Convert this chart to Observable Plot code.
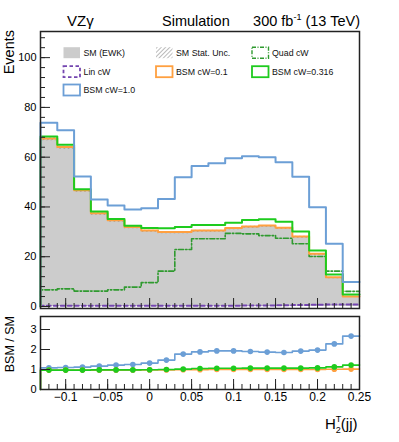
<!DOCTYPE html>
<html><head><meta charset="utf-8">
<script src="https://cdn.jsdelivr.net/npm/d3@7"></script>
<script src="https://cdn.jsdelivr.net/npm/@observablehq/plot@0.6"></script>
<style>
body{margin:0;background:#fff;font-family:"Liberation Sans",Arial,sans-serif;}
#wrap{position:relative;width:399px;height:442px;overflow:hidden;background:#fff;}
#topPanel,#botPanel,#ov{position:absolute;left:0;}
#topPanel{top:0;} #botPanel{top:312px;} #ov{top:0;pointer-events:none;}
</style></head><body><div id="wrap"><div id="topPanel"></div><div id="botPanel"></div><svg id="ov" width="399" height="442"></svg></div>
<script>
// ---- data ----
const binEdges = [-0.13,-0.11,-0.09,-0.07,-0.05,-0.03,-0.01,0.01,0.03,0.05,0.07,0.09,0.11,0.13,0.15,0.17,0.19,0.21,0.23,0.25];
const binCenters = [-0.12,-0.10,-0.08,-0.06,-0.04,-0.02,0,0.02,0.04,0.06,0.08,0.10,0.12,0.14,0.16,0.18,0.20,0.22,0.24];
const smEWK   = [67.2,63.8,46.4,37.2,34.4,31.6,30.2,29.6,29.6,30.2,30.2,31.2,31.8,32.2,31.3,27.8,20.9,11.5,3.8];
const smStatUnc = [0.6,0.6,0.5,0.5,0.5,0.4,0.4,0.4,0.4,0.4,0.4,0.4,0.4,0.4,0.4,0.4,0.4,0.3,0.2];
const linCW   = [0.3,0.3,0.3,0.3,0.3,0.3,0.3,0.3,0.3,0.3,0.3,0.3,0.4,0.4,0.5,0.6,0.7,0.8,0.8];
const quadCW  = [6.7,7.1,6.2,6.2,6.7,7.8,9.6,14.2,22.9,27.2,27.2,29.4,29.2,28.5,27.4,25.2,20.1,14.2,6.1];
const bsm01   = [67.5,64.1,46.7,37.5,34.7,31.9,30.5,29.9,29.9,30.5,30.5,31.5,32.1,32.5,31.6,28.1,21.2,11.8,4.0];
const bsm0316 = [68.3,65.0,47.1,38.2,35.2,32.4,31.5,31.4,31.9,32.8,32.8,33.7,34.8,35.1,34.1,30.1,22.5,12.9,4.8];
const bsm10   = [73.8,70.8,52.2,43.0,40.6,39.0,39.5,43.2,51.9,56.5,57.6,59.6,60.4,60.0,58.0,52.1,39.9,25.2,9.8];
const ratio01   = [0.97,0.97,0.97,0.97,0.97,0.97,0.98,0.98,0.99,0.99,1.00,1.00,1.00,1.00,1.00,1.00,1.00,1.01,1.02];
const ratio0316 = [0.97,0.97,0.97,0.98,0.98,0.98,0.99,1.00,1.02,1.05,1.06,1.06,1.07,1.07,1.07,1.07,1.08,1.13,1.22];
const ratio10   = [1.08,1.10,1.12,1.17,1.22,1.25,1.32,1.47,1.77,1.88,1.93,1.93,1.90,1.87,1.85,1.92,1.97,2.28,2.67];
const yTicksTop = [0,20,40,60,80,100];
const yTicksRatio = [0,1,2,3];
const yTickLabelsRatio = ["0","1","2","3"];
const xTicks = [-0.1,-0.05,0,0.05,0.1,0.15,0.2,0.25];
const xTickLabels = ["\u22120.1","\u22120.05","0","0.05","0.1","0.15","0.2","0.25"];
const legendItems = [
  {label:"SM (EWK)", kind:"fill"},
  {label:"SM Stat. Unc.", kind:"hatch"},
  {label:"Quad cW", kind:"quad"},
  {label:"Lin cW", kind:"lin"},
  {label:"BSM cW=0.1", kind:"b01"},
  {label:"BSM cW=0.316", kind:"b0316"},
  {label:"BSM cW=1.0", kind:"b10"}
];

// ---- style ----
const C = {sm:"#cccccc", quad:"#2f9a2f", lin:"#7446b0", b01:"#ffa040", b0316:"#1ecb1e", b10:"#6c9fd6", frame:"#222"};
const xDomain = [binEdges[0], binEdges[binEdges.length-1]];
const W = 399, ML = 40, MR = 40;
const plotW = W - ML - MR;

function steps(vals){
  const pts = [{x:binEdges[0], y:0}];
  vals.forEach((v,i)=>pts.push({x:binEdges[i], y:v}));
  pts.push({x:binEdges[vals.length], y:vals[vals.length-1]});
  return pts;
}
function band(vals, unc){
  const pts = [];
  vals.forEach((v,i)=>pts.push({x:binEdges[i], y1:v-unc[i], y2:v+unc[i]}));
  const n = vals.length-1;
  pts.push({x:binEdges[vals.length], y1:vals[n]-unc[n], y2:vals[n]+unc[n]});
  return pts;
}
const xMinor = d3.range(-12,25).map(i=>i/100);
const yMinorTop = d3.range(0,111,4);

const baseStyle = {fontFamily:"Liberation Sans, Arial, sans-serif", color:"#000", background:"transparent", overflow:"visible"};

// ---- upper panel ----
const H1 = 312, MT1 = 31, MB1 = 4, ph1 = H1 - MT1 - MB1;
const topPlot = Plot.plot({
  width: W, height: H1, marginLeft: ML, marginRight: MR, marginTop: MT1, marginBottom: MB1,
  style: baseStyle,
  x: {domain: xDomain, axis: null},
  y: {domain: [-0.8, 110.5], axis: null},
  marks: [
    Plot.areaY(steps(smEWK), {x:"x", y:"y", curve:"step-after", fill:C.sm}),
    Plot.areaY(band(smEWK, smStatUnc), {x:"x", y1:"y1", y2:"y2", curve:"step-after", fill:"url(#hatch)"}),
    Plot.line(steps(quadCW), {x:"x", y:"y", curve:"step-after", stroke:C.quad, strokeWidth:1.6, strokeDasharray:"5,2,1.5,2"}),
    Plot.line(steps(linCW), {x:"x", y:"y", curve:"step-after", stroke:C.lin, strokeWidth:2, strokeDasharray:"4,3"}),
    Plot.line(steps(bsm01), {x:"x", y:"y", curve:"step-after", stroke:C.b01, strokeWidth:2}),
    Plot.line(steps(bsm0316), {x:"x", y:"y", curve:"step-after", stroke:C.b0316, strokeWidth:2}),
    Plot.line(steps(bsm10), {x:"x", y:"y", curve:"step-after", stroke:C.b10, strokeWidth:2}),
    Plot.tickY(yTicksTop, {y:d=>d, insetRight: plotW-10, stroke:C.frame}),
    Plot.tickY(yMinorTop, {y:d=>d, insetRight: plotW-5, stroke:C.frame}),
    Plot.tickX(xTicks, {x:d=>d, insetTop: ph1-10, stroke:C.frame}),
    Plot.tickX(xMinor, {x:d=>d, insetTop: ph1-5, stroke:C.frame}),
    Plot.axisY({ticks: yTicksTop, tickSize: 0, tickPadding: 4, fontSize: 11, label: null}),
    Plot.frame({stroke: C.frame, strokeWidth: 1.5})
  ]
});
document.getElementById("topPanel").appendChild(topPlot);
const svgTop = topPlot.tagName.toLowerCase()==="svg" ? topPlot : topPlot.querySelector("svg");
const defs = d3.select(svgTop).insert("defs", ":first-child");
const pat = defs.append("pattern").attr("id","hatch").attr("patternUnits","userSpaceOnUse")
  .attr("width",3).attr("height",3).attr("patternTransform","rotate(45)");
pat.append("line").attr("x1",0).attr("y1",0).attr("x2",0).attr("y2",3).attr("stroke","#555").attr("stroke-width",0.9);

// ---- ratio panel ----
const H2 = 130, MT2 = 4, MB2 = 53, ph2 = H2 - MT2 - MB2;
const pts = (arr)=>arr.map((v,i)=>({x:binCenters[i], y:v}));
const botPlot = Plot.plot({
  width: W, height: H2, marginLeft: ML, marginRight: MR, marginTop: MT2, marginBottom: MB2,
  style: baseStyle,
  x: {domain: xDomain, axis: null},
  y: {domain: [0, 3.65], axis: null},
  marks: [
    Plot.line(steps(ratio10), {x:"x", y:"y", curve:"step-after", stroke:C.b10, strokeWidth:1.6}),
    Plot.dot(pts(ratio10), {x:"x", y:"y", r:2.8, fill:C.b10}),
    Plot.line(steps(ratio01), {x:"x", y:"y", curve:"step-after", stroke:C.b01, strokeWidth:1.6}),
    Plot.dot(pts(ratio01), {x:"x", y:"y", r:2.8, fill:C.b01}),
    Plot.line(steps(ratio0316), {x:"x", y:"y", curve:"step-after", stroke:C.b0316, strokeWidth:1.6}),
    Plot.dot(pts(ratio0316), {x:"x", y:"y", r:2.8, fill:C.b0316}),
    Plot.tickY(yTicksRatio, {y:d=>d, insetRight: plotW-10, stroke:C.frame}),
    Plot.tickX(xTicks, {x:d=>d, insetTop: ph2-10, stroke:C.frame}),
    Plot.tickX(xMinor, {x:d=>d, insetTop: ph2-5, stroke:C.frame}),
    Plot.axisY({ticks: yTicksRatio, tickSize: 0, tickPadding: 4, fontSize: 11, label: null,
      tickFormat: d => yTickLabelsRatio[yTicksRatio.indexOf(d)]}),
    Plot.axisX({ticks: xTicks, tickSize: 0, tickPadding: 3, fontSize: 12, label: null,
      tickFormat: d => xTickLabels[xTicks.indexOf(d)]}),
    Plot.frame({stroke: C.frame, strokeWidth: 1.5})
  ]
});
document.getElementById("botPanel").appendChild(botPlot);

// ---- overlay texts & legend ----
const ov = d3.select("#ov").style("font-family","Liberation Sans, Arial, sans-serif");
ov.append("text").attr("x",67).attr("y",26).attr("font-size",15).text("VZγ");
ov.append("text").attr("x",162).attr("y",26).attr("font-size",14.5).text("Simulation");
const lum = ov.append("text").attr("x",360).attr("y",26).attr("font-size",14.5).attr("text-anchor","end");
lum.append("tspan").text("300 fb");
lum.append("tspan").attr("dy",-6).attr("font-size",9).text("-1");
lum.append("tspan").attr("dy",6).text(" (13 TeV)");
ov.append("text").attr("transform","translate(14,30) rotate(-90)").attr("text-anchor","end").attr("font-size",14.5).text("Events");
ov.append("text").attr("transform","translate(14,316) rotate(-90)").attr("text-anchor","end").attr("font-size",12.5).text("BSM / SM");
const xt = ov.append("text").attr("x",325).attr("y",429).attr("font-size",15);
xt.append("tspan").text("H");
xt.append("tspan").attr("dy",-7).attr("font-size",9).text("T");
xt.append("tspan").attr("dx",-5.5).attr("dy",11).attr("font-size",9).text("2");
xt.append("tspan").attr("dy",-4).text("(jj)");

const colX = [63.5, 156, 252], rowY = [52.7, 71.7, 90];
const ldefs = ov.append("defs");
const lp = ldefs.append("pattern").attr("id","lhatch").attr("patternUnits","userSpaceOnUse")
  .attr("width",3).attr("height",3).attr("patternTransform","rotate(45)");
lp.append("line").attr("x1",0).attr("y1",0).attr("x2",0).attr("y2",3).attr("stroke","#666").attr("stroke-width",0.9);
legendItems.forEach((it,i)=>{
  const cx = colX[i%3], cy = rowY[Math.floor(i/3)];
  const g = ov.append("g");
  const r = g.append("rect").attr("x",cx).attr("y",cy-5.5).attr("width",16.5).attr("height",11);
  if (it.kind==="fill") r.attr("fill",C.sm);
  else if (it.kind==="hatch") r.attr("fill","url(#lhatch)");
  else {
    r.attr("fill","none").attr("stroke-width", it.kind==="quad"?1.4:1.8);
    if (it.kind==="quad") r.attr("stroke",C.quad).attr("stroke-dasharray","4,1.5,1,1.5");
    if (it.kind==="lin") r.attr("stroke",C.lin).attr("stroke-dasharray","3.5,2.5");
    if (it.kind==="b01") r.attr("stroke",C.b01);
    if (it.kind==="b0316") r.attr("stroke",C.b0316);
    if (it.kind==="b10") r.attr("stroke",C.b10);
  }
  g.append("text").attr("x",cx+20).attr("y",cy+3.2).attr("font-size",8.8).attr("fill","#111").text(it.label);
});
</script></body></html>
